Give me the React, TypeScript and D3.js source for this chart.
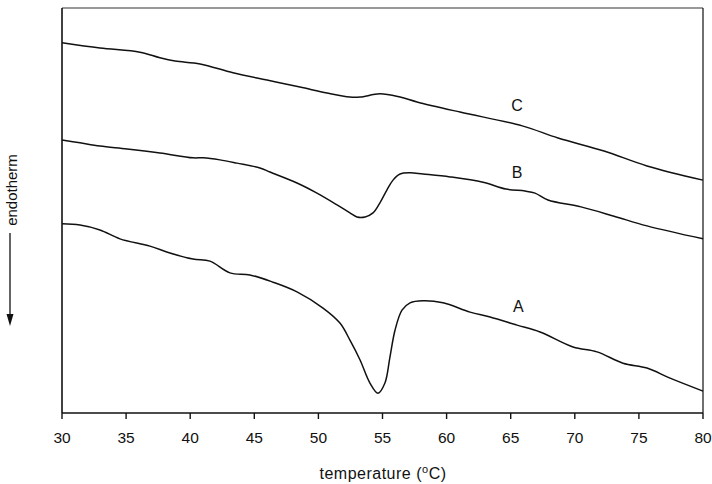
import React from "react";
import * as d3 from "d3";

// DSC traces: temperature (°C) and heat-flow signal (arbitrary units)
const tempC = [30, 32.96, 36.08, 37.64, 38.82, 40.77, 43.34, 45.99, 48.56, 50.67, 52.46, 53.25, 54.8, 56.37, 57.69, 61.05, 65.9, 68.69, 72.28, 75.63, 80];
const sigC = [91.4, 90.1, 89.1, 87.7, 86.9, 86.2, 84.0, 82.2, 80.5, 79.0, 78.0, 78.0, 78.8, 78.0, 76.8, 74.3, 70.9, 67.9, 64.7, 61.0, 57.5];

const tempB = [30, 31.4, 32.96, 35.07, 37.64, 40.22, 41.0, 42.32, 43.65, 45.44, 46.22, 48.33, 49.89, 51.45, 52.46, 53.01, 53.64, 54.26, 54.8, 55.35, 55.82, 56.37, 57.15, 58.16, 60.27, 62.84, 64.63, 66.12, 66.9, 67.91, 70.48, 73.06, 75.63, 80];
const sigB = [67.4, 66.7, 65.9, 65.2, 64.2, 63.0, 63.0, 62.5, 61.7, 60.5, 59.5, 56.8, 54.3, 51.4, 49.4, 48.4, 48.4, 49.4, 51.9, 55.1, 57.5, 59.0, 59.3, 59.0, 58.3, 57.0, 55.3, 54.8, 54.3, 52.6, 50.9, 48.6, 46.2, 43.0];

const tempA = [30, 31.4, 32.96, 34.52, 36.86, 38.42, 40.22, 41.54, 43.1, 44.66, 46.46, 48.33, 50.36, 51.68, 52.46, 53.25, 54.02, 54.65, 55.19, 55.58, 55.98, 56.52, 57.15, 58.16, 59.72, 61.83, 63.39, 65.49, 67.29, 69.86, 71.73, 73.76, 75.63, 77.43, 80];
const sigA = [46.7, 46.4, 45.2, 43.0, 41.2, 39.5, 38.0, 37.5, 34.6, 34.1, 32.3, 29.9, 25.9, 22.2, 18.0, 13.1, 7.4, 4.9, 7.4, 13.8, 20.5, 25.4, 27.2, 27.7, 27.2, 24.9, 23.7, 21.7, 20.0, 16.3, 15.1, 12.3, 11.1, 8.6, 5.4];

const xTicks = [30, 35, 40, 45, 50, 55, 60, 65, 70, 75, 80];

const traces = [
  { name: "C", t: tempC, s: sigC, labelT: 65.5, labelS: 74.5 },
  { name: "B", t: tempB, s: sigB, labelT: 65.5, labelS: 58.0 },
  { name: "A", t: tempA, s: sigA, labelT: 65.6, labelS: 25.0 },
];

const W = 712;
const H = 484;
const left = 62;
const right = 703;
const top = 8;
const bottom = 413;
const font = "'Liberation Sans', Arial, Helvetica, sans-serif";

export default function App() {
  const x = d3.scaleLinear().domain([30, 80]).range([left, right]);
  const y = d3.scaleLinear().domain([0, 100]).range([bottom, top]);

  const line = d3
    .line<[number, number]>()
    .x((d) => x(d[0]))
    .y((d) => y(d[1]))
    .curve(d3.curveCatmullRom.alpha(0.5));

  return (
    <svg
      width={W}
      height={H}
      style={{ position: "absolute", left: 0, top: 0, background: "#fff" }}
      fontFamily={font}
    >
      {/* plot frame */}
      <line x1={left} y1={top} x2={right} y2={top} stroke="#333" strokeWidth={1.1} />
      <line x1={right} y1={top} x2={right} y2={bottom} stroke="#222" strokeWidth={1.3} />
      <line x1={left} y1={top} x2={left} y2={bottom} stroke="#111" strokeWidth={1.6} />
      <line x1={left} y1={bottom} x2={right} y2={bottom} stroke="#111" strokeWidth={1.6} />

      {/* x axis ticks and labels */}
      {xTicks.map((t) => (
        <g key={t}>
          <line x1={x(t)} y1={bottom} x2={x(t)} y2={bottom + 6} stroke="#111" strokeWidth={1.4} />
          <text x={x(t)} y={443} textAnchor="middle" fontSize={15.5} fill="#111">
            {t}
          </text>
        </g>
      ))}

      <text x={383} y={479} textAnchor="middle" fontSize={16} letterSpacing={0.5} fill="#111">
        temperature (
        <tspan dy={-6} fontSize={11}>o</tspan>
        <tspan dy={6}>C)</tspan>
      </text>

      {/* y axis label with downward arrow */}
      <text
        transform={`translate(17, 190) rotate(-90)`}
        textAnchor="middle"
        fontSize={15}
        fill="#111"
      >
        endotherm
      </text>
      <line x1={10} y1={233} x2={10} y2={316} stroke="#111" strokeWidth={1.3} />
      <path d="M6.5,314 L13.5,314 L10,326 Z" fill="#111" />

      {/* traces */}
      {traces.map((tr) => {
        const pts = tr.t.map((t, i) => [t, tr.s[i]] as [number, number]);
        return (
          <g key={tr.name}>
            <path d={line(pts) || ""} fill="none" stroke="#111" strokeWidth={1.5} />
            <text x={x(tr.labelT)} y={y(tr.labelS)} textAnchor="middle" fontSize={16} fill="#111">
              {tr.name}
            </text>
          </g>
        );
      })}
    </svg>
  );
}
